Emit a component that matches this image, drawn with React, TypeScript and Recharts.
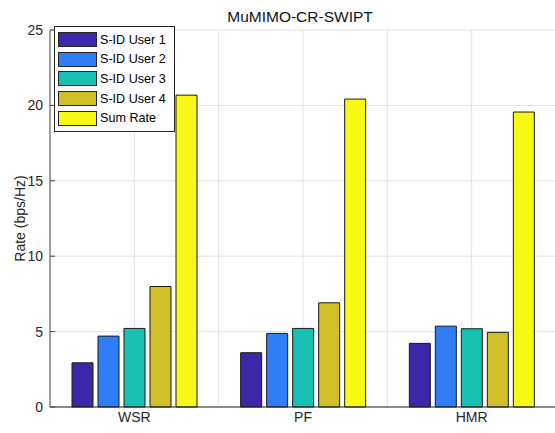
import React from 'react';
import { BarChart, Bar, XAxis, YAxis, CartesianGrid, Legend } from 'recharts';

const categories = ['WSR', 'PF', 'HMR'];
const user1 = [2.93, 3.6, 4.22];
const user2 = [4.7, 4.88, 5.36];
const user3 = [5.21, 5.21, 5.19];
const user4 = [7.99, 6.91, 4.95];
const sumRate = [20.68, 20.42, 19.56];
const yTicks = [0, 5, 10, 15, 20, 25];
const gridTicks = [0.5, 1, 1.5, 2, 2.5, 3, 3.5];

const series = [
  { key: 'u1', name: 'S-ID User 1', color: '#3d26a8' },
  { key: 'u2', name: 'S-ID User 2', color: '#2f7ef8' },
  { key: 'u3', name: 'S-ID User 3', color: '#18c0b4' },
  { key: 'u4', name: 'S-ID User 4', color: '#d1bf29' },
  { key: 'sum', name: 'Sum Rate', color: '#f8f815' },
];

const data = categories.map((c, i) => ({
  name: c,
  idx: i + 1,
  u1: user1[i],
  u2: user2[i],
  u3: user3[i],
  u4: user4[i],
  sum: sumRate[i],
}));

const font = '"Liberation Sans", Arial, sans-serif';

const LegendBox = (props: any) => {
  const items = props.payload || [];
  return (
    <div
      style={{
        border: '1px solid #262626',
        background: '#fff',
        padding: '3px 8px 3px 3px',
        fontFamily: font,
        fontSize: 12.6,
        color: '#000',
      }}
    >
      {items.map((it: any) => (
        <div key={it.value} style={{ display: 'flex', alignItems: 'center', height: 19.6 }}>
          <span
            style={{
              width: 37,
              height: 13,
              background: it.color,
              border: '1px solid #262626',
              marginRight: 3,
              display: 'inline-block',
            }}
          />
          <span>{it.value}</span>
        </div>
      ))}
    </div>
  );
};

const YLabel = (props: any) => {
  const vb = props.viewBox;
  const x = vb.x + 25;
  const y = vb.y + vb.height / 2;
  return (
    <text
      x={x}
      y={y}
      transform={`rotate(-90, ${x}, ${y})`}
      textAnchor="middle"
      fill="#262626"
      fontSize={14}
      fontFamily={font}
    >
      Rate (bps/Hz)
    </text>
  );
};

// y tick label plus a short inward tick mark (matlab style)
const YTick = (props: any) => {
  const { x, y, payload } = props;
  const ax = x + 7;
  return (
    <g>
      <line x1={ax} x2={ax + 5} y1={y} y2={y} stroke="#404040" />
      <text x={x} y={y} dy="0.355em" textAnchor="end" fill="#262626" fontSize={14} fontFamily={font}>
        {payload.value}
      </text>
    </g>
  );
};

const XMinorTick = (props: any) => {
  const { x, y } = props;
  return <line x1={x} x2={x} y1={y} y2={y - 5} stroke="#404040" />;
};

const App = () => {
  return (
    <div style={{ position: 'absolute', left: 0, top: 0, width: 555, height: 433, background: '#fff' }}>
      <div
        style={{
          position: 'absolute',
          top: 8,
          left: 50,
          width: 500,
          textAlign: 'center',
          fontFamily: font,
          fontSize: 15.5,
          color: '#111',
          zIndex: 1,
        }}
      >
        MuMIMO-CR-SWIPT
      </div>
      <BarChart
        width={555}
        height={433}
        data={data}
        margin={{ top: 30, right: -1, left: 0, bottom: 0 }}
        barSize={21}
        barGap={5}
      >
        <CartesianGrid xAxisId="num" stroke="#e3e3e3" strokeWidth={1} />
        <XAxis
          xAxisId="num"
          dataKey="idx"
          type="number"
          domain={[0.5, 3.5]}
          ticks={gridTicks}
          allowDataOverflow
          height={0}
          tickSize={0}
          tickMargin={0}
          tickLine={false}
          axisLine={false}
          tick={<XMinorTick />}
        />
        <XAxis
          xAxisId="cat"
          dataKey="name"
          height={26}
          tickSize={0}
          tickMargin={5}
          axisLine={{ stroke: '#262626' }}
          tick={{ fill: '#262626', fontSize: 14, fontFamily: font }}
        />
        <YAxis
          width={50}
          domain={[0, 25]}
          ticks={yTicks}
          tickSize={0}
          tickMargin={7}
          tickLine={false}
          axisLine={{ stroke: '#505050' }}
          tick={<YTick />}
          label={<YLabel />}
        />
        <Legend
          layout="horizontal"
          verticalAlign="middle"
          align="center"
          content={<LegendBox />}
          wrapperStyle={{ position: 'absolute', left: 54, top: 26, width: 'auto' }}
        />
        {series.map((s) => (
          <Bar
            key={s.key}
            xAxisId="cat"
            dataKey={s.key}
            name={s.name}
            fill={s.color}
            stroke="#1a1a1a"
            strokeWidth={1}
            isAnimationActive={false}
          />
        ))}
      </BarChart>
    </div>
  );
};

export default App;
